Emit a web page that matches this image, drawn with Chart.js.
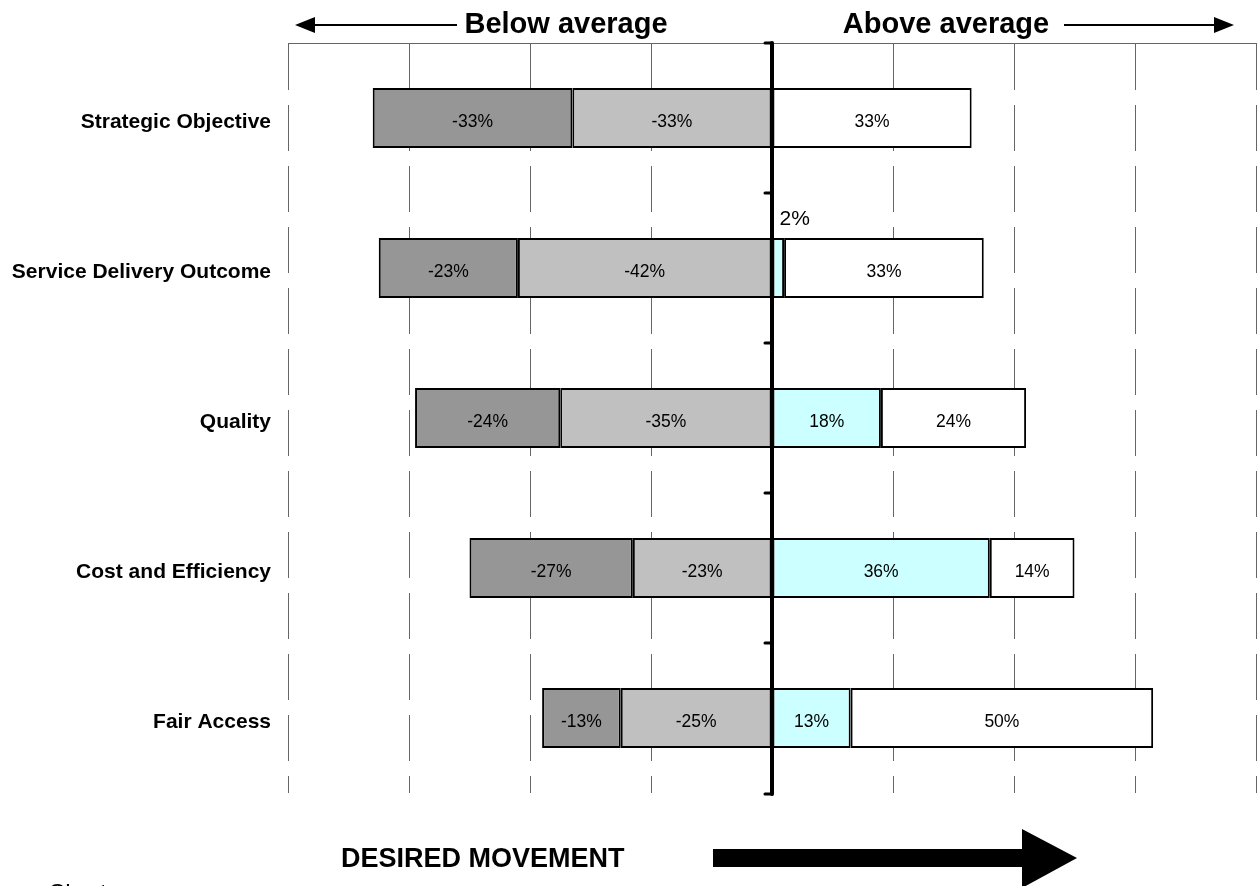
<!DOCTYPE html>
<html>
<head>
<meta charset="utf-8">
<title>Desired movement</title>
<script src="https://cdn.jsdelivr.net/npm/chart.js@4.4.1/dist/chart.umd.min.js"></script>
<style>
    html, body { margin: 0; padding: 0; background: #fff; }
    #wrap { position: relative; width: 1258px; height: 886px; overflow: hidden; }
</style>
</head>
<body>
<div id="wrap"><canvas id="chartMovement"></canvas></div>
<script>
// Categories and the four score bands (negative = below average)
const categories = ['Strategic Objective', 'Service Delivery Outcome', 'Quality', 'Cost and Efficiency', 'Fair Access'];
const farBelow   = [-33, -23, -24, -27, -13];
const nearBelow  = [-33, -42, -35, -23, -25];
const nearAbove  = [0, 2, 18, 36, 13];
const farAbove   = [33, 33, 24, 14, 50];
const xTicks     = [-80, -60, -40, -20, 0, 20, 40, 60, 80];

const FONT = 'Arial, "Liberation Sans", sans-serif';

// Labels inside each segment; tiny segments get their label above the bar
const segmentLabels = {
    id: 'segmentLabels',
    afterDatasetsDraw(chart) {
        const ctx = chart.ctx;
        ctx.save();
        ctx.fillStyle = '#000';
        chart.data.datasets.forEach((ds, di) => {
            const meta = chart.getDatasetMeta(di);
            meta.data.forEach((bar, i) => {
                const v = ds.data[i];
                if (!v) return;
                const p = bar.getProps(['x', 'y', 'base', 'height'], true);
                const w = Math.abs(p.x - p.base);
                if (w < 30) {
                    ctx.font = '21px ' + FONT;
                    ctx.textAlign = 'left';
                    ctx.textBaseline = 'alphabetic';
                    ctx.fillText(v + '%', Math.min(p.x, p.base) + 7, p.y - p.height / 2 - 13);
                } else {
                    ctx.font = '17.5px ' + FONT;
                    ctx.textAlign = 'center';
                    ctx.textBaseline = 'middle';
                    ctx.fillText(v + '%', (p.x + p.base) / 2, p.y + 4);
                }
            });
        });
        ctx.restore();
    }
};

// Heavy zero line with small ticks at category boundaries
const zeroLine = {
    id: 'zeroLine',
    afterDatasetsDraw(chart) {
        const { ctx, chartArea, scales } = chart;
        const x0 = scales.x.getPixelForValue(0);
        const y = scales.y;
        ctx.save();
        ctx.strokeStyle = '#000';
        ctx.lineCap = 'round';
        ctx.lineWidth = 4;
        ctx.beginPath();
        ctx.moveTo(x0, chartArea.top);
        ctx.lineTo(x0, chartArea.bottom + 1);
        ctx.stroke();
        const step = y.getPixelForValue(1) - y.getPixelForValue(0);
        ctx.lineWidth = 3;
        for (let i = 0; i <= categories.length; i++) {
            const ty = y.getPixelForValue(0) - step / 2 + step * i + (i === categories.length ? 1 : 0);
            ctx.beginPath();
            ctx.moveTo(x0 - 7, ty);
            ctx.lineTo(x0, ty);
            ctx.stroke();
        }
        ctx.restore();
    }
};

// Header arrows, desired movement arrow and footer text
const annotations = {
    id: 'annotations',
    afterDraw(chart) {
        const { ctx } = chart;
        ctx.save();
        ctx.fillStyle = '#000';
        ctx.strokeStyle = '#000';

        ctx.font = 'bold 29px ' + FONT;
        ctx.textBaseline = 'alphabetic';
        ctx.textAlign = 'center';
        ctx.fillText('Below average', 566, 33);
        ctx.fillText('Above average', 946, 33);

        ctx.lineWidth = 2;
        ctx.beginPath();
        ctx.moveTo(312, 25); ctx.lineTo(457, 25);
        ctx.moveTo(1064, 25); ctx.lineTo(1218, 25);
        ctx.stroke();
        ctx.beginPath();
        ctx.moveTo(295, 25); ctx.lineTo(315, 17); ctx.lineTo(315, 33); ctx.closePath();
        ctx.moveTo(1234, 25); ctx.lineTo(1214, 17); ctx.lineTo(1214, 33); ctx.closePath();
        ctx.fill();

        ctx.font = 'bold 27px ' + FONT;
        ctx.textAlign = 'left';
        ctx.fillText('DESIRED MOVEMENT', 341, 867);

        ctx.beginPath();
        ctx.moveTo(713, 849); ctx.lineTo(1022, 849); ctx.lineTo(1022, 829);
        ctx.lineTo(1077, 858); ctx.lineTo(1022, 888); ctx.lineTo(1022, 867);
        ctx.lineTo(713, 867); ctx.closePath();
        ctx.fill();

        ctx.font = '24px ' + FONT;
        ctx.fillText('Chart', 48, 901);
        ctx.restore();
    }
};

const makeSet = (label, data, color) => ({
    label: label,
    data: data,
    backgroundColor: color,
    borderColor: '#000',
    borderWidth: 2,
    borderSkipped: false,
    categoryPercentage: 1,
    barPercentage: 0.4
});

new Chart(document.getElementById('chartMovement'), {
    type: 'bar',
    data: {
        labels: categories,
        datasets: [
            makeSet('Below', nearBelow, '#c0c0c0'),
            makeSet('Well below', farBelow, '#969696'),
            makeSet('Above', nearAbove, '#ccffff'),
            makeSet('Well above', farAbove, '#ffffff')
        ]
    },
    options: {
        indexAxis: 'y',
        responsive: true,
        maintainAspectRatio: false,
        animation: false,
        layout: { padding: { left: 0, top: 43, right: 2, bottom: 93 } },
        plugins: {
            legend: { display: false },
            tooltip: { enabled: false }
        },
        scales: {
            x: {
                position: 'top',
                stacked: true,
                min: -80,
                max: 80,
                afterBuildTicks: (axis) => { axis.ticks = xTicks.map(v => ({ value: v })); },
                afterFit: (axis) => { axis.height = 0; },
                ticks: { display: false },
                grid: { color: '#666', lineWidth: 1, drawTicks: false },
                border: { display: true, color: '#666', width: 1, dash: [46, 15] }
            },
            y: {
                stacked: true,
                afterFit: (axis) => { axis.width = 288; },
                grid: { display: false, drawTicks: false },
                border: { display: false },
                ticks: {
                    padding: 17,
                    labelOffset: 4,
                    color: '#000',
                    font: { family: FONT, size: 21, weight: 'bold' }
                }
            }
        }
    },
    plugins: [segmentLabels, zeroLine, annotations]
});
</script>
</body>
</html>
